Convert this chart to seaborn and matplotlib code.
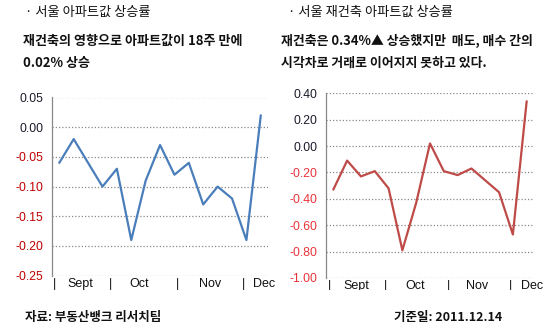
import matplotlib
matplotlib.use("Agg")
import matplotlib.pyplot as plt
import seaborn as sns
import pandas as pd
import numpy as np
from matplotlib.patches import Rectangle

# ---- data ----
weeks = list(range(15))
seoul_apt = [-0.06, -0.02, -0.06, -0.10, -0.07, -0.19, -0.09, -0.03, -0.08, -0.06,
             -0.13, -0.10, -0.12, -0.19, 0.02]
seoul_recon = [-0.33, -0.11, -0.23, -0.19, -0.32, -0.79, -0.43, 0.02, -0.19, -0.22,
               -0.17, -0.26, -0.35, -0.67, 0.34]
month_labels = ["|", "Sept", "|", "Oct", "|", "Nov", "|", "Dec"]
left_yticks = [0.05, 0.00, -0.05, -0.10, -0.15, -0.20, -0.25]
right_yticks = [0.40, 0.20, 0.00, -0.20, -0.40, -0.60, -0.80, -1.00]

left_title = "· 서울 아파트값 상승률"
left_sub = "재건축의 영향으로 아파트값이 18주 만에\n0.02% 상승"
right_title = "· 서울 재건축 아파트값 상승률"
right_sub = "재건축은 0.34%▲ 상승했지만  매도, 매수 간의\n시각차로 거래로 이어지지 못하고 있다."
source_text = "자료: 부동산뱅크 리서치팀"
date_text = "기준일: 2011.12.14"

df_l = pd.DataFrame({"week": weeks, "val": seoul_apt})
df_r = pd.DataFrame({"week": weeks, "val": seoul_recon})

sns.set_style("white")
KR = ["Noto Sans CJK KR", "DejaVu Sans"]
NUM = ["Liberation Sans", "DejaVu Sans"]
plt.rcParams["font.family"] = KR

fig = plt.figure(figsize=(5.6, 3.33), dpi=100)
W, H = 560, 333


def ax_rect(x0, x1, ytop, ybot):
    return [x0 / W, 1 - ybot / H, (x1 - x0) / W, (ybot - ytop) / H]


ax1 = fig.add_axes(ax_rect(52, 268, 97.5, 275.7))
ax2 = fig.add_axes(ax_rect(326, 534, 93.3, 278))

grid_kw = dict(color="#8a8a8a", linewidth=0.9, linestyle=(0, (1, 1.6)))


def style(ax, df, color, yticks, xlim, xpos, negcol):
    sns.lineplot(data=df, x="week", y="val", ax=ax, color=color, linewidth=1.6)
    ax.set_xlim(*xlim)
    ax.set_ylim(min(yticks), max(yticks))
    ax.set_yticks(yticks)
    ax.set_yticklabels([f"{v:.2f}" for v in yticks], family=NUM, fontsize=8.8)
    for lab, v in zip(ax.get_yticklabels(), yticks):
        lab.set_color(negcol if v < 0 else "#1a1a2a")
    for v in yticks:
        ax.axhline(v, zorder=0, **grid_kw)
    ax.set_xticks(xpos)
    ax.set_xticklabels(month_labels, family=NUM, fontsize=9, color="#111111")
    ax.tick_params(axis="x", length=0, pad=1.5)
    ax.tick_params(axis="y", length=3, width=0.8, color="#888888", direction="out", pad=3)
    for s in ["top", "right", "bottom"]:
        ax.spines[s].set_visible(False)
    ax.spines["left"].set_color("#888888")
    ax.spines["left"].set_linewidth(0.9)
    ax.set_xlabel("")
    ax.set_ylabel("")
    ax.grid(False)


style(ax1, df_l, "#4a7ebb", left_yticks, (-0.507, 14.5),
      [-0.3, 1.46, 3.59, 5.58, 8.22, 10.49, 12.83, 14.2], "#c00000")
style(ax2, df_r, "#be4b48", right_yticks, (-0.53, 14.53),
      [-0.29, 1.64, 3.81, 5.9, 8.33, 10.43, 12.85, 14.4], "#e8333a")

# crop effect at bottom of right chart labels
fig.patches.append(Rectangle((300 / W, 0), 260 / W, 1 - 290 / H, transform=fig.transFigure,
                             facecolor="white", edgecolor="none", zorder=5))

fig.text(25 / W, 1 - 12 / H, left_title, fontsize=9.5, va="center", ha="left", color="#111111")
fig.text(288 / W, 1 - 12 / H, right_title, fontsize=9.5, va="center", ha="left", color="#111111")
fig.text(23 / W, 1 - 52 / H, left_sub, fontsize=9.4, fontweight="bold", va="center", ha="left",
         linespacing=1.75, color="#111111")
fig.text(281 / W, 1 - 52 / H, right_sub, fontsize=9.3, fontweight="bold", va="center", ha="left",
         linespacing=1.75, color="#111111")
fig.text(25 / W, 1 - 317 / H, source_text, fontsize=9, fontweight="bold", va="center", ha="left",
         color="#111111", zorder=10)
fig.text(502 / W, 1 - 317 / H, date_text, fontsize=9, fontweight="bold", va="center", ha="right",
         color="#111111", zorder=10)

fig.savefig("out.png", dpi=100, facecolor="white")
